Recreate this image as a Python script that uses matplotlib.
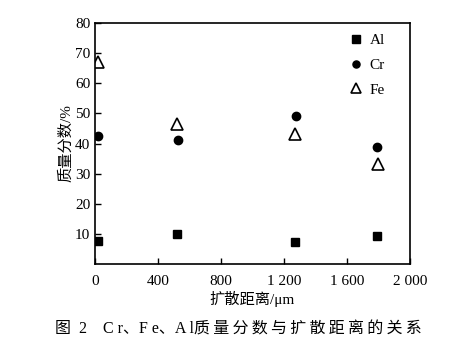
import matplotlib.pyplot as plt

plt.rcParams['font.family'] = ['Liberation Serif', 'Noto Sans CJK SC']

# 扩散距离 (µm) 与质量分数 (%)
dist_al = [20, 520, 1270, 1790]
al = [7.6, 9.9, 7.3, 9.4]
dist_cr = [20, 527, 1276, 1790]
cr = [42.6, 41.0, 49.2, 39.0]
dist_fe = [20, 520, 1272, 1795]
fe = [67.1, 46.6, 43.2, 33.3]

xticks = [0, 400, 800, 1200, 1600, 2000]
xlabels = ['0', '400', '800', '1 200', '1 600', '2 000']
yticks = [10, 20, 30, 40, 50, 60, 70, 80]

caption = '图  2    C r、F e、A l质\u2009量\u2009分\u2009数\u2009与\u2009扩\u2009散\u2009距\u2009离\u2009的\u2009关\u2009系'


def main():
    fig = plt.figure(figsize=(4.76, 3.46), dpi=100)
    ax = fig.add_axes([0.1996, 0.237, 0.6614, 0.6965])

    ax.plot(dist_al, al, 's', color='black', ms=6, label='Al')
    ax.plot(dist_cr, cr, 'o', color='black', ms=6, label='Cr')
    ax.plot(dist_fe, fe, '^', mfc='white', mec='black', mew=1.2, ms=8, label='Fe')

    ax.set_xlim(0, 2000)
    ax.set_ylim(0, 80)
    ax.set_xticks(xticks)
    ax.set_xticklabels(xlabels)
    ax.set_yticks(yticks)
    ax.tick_params(direction='in', length=4, width=1, labelsize=11,
                   top=False, right=False, colors='black')
    ax.tick_params(axis='x', pad=8)
    for s in ax.spines.values():
        s.set_linewidth(1.2)

    ax.set_xlabel('扩散距离/μm', fontsize=11, labelpad=2)
    ax.set_ylabel('质量分数/%', fontsize=11, labelpad=1)

    leg = ax.legend(loc='upper right', bbox_to_anchor=(0.955, 1.0),
                    frameon=False, fontsize=11, handletextpad=0.4,
                    borderaxespad=0.3, labelspacing=0.72, handlelength=1.0,
                    markerscale=0.85)

    fig.text(0.5, 0.035, caption, ha='center', fontsize=11.5)

    fig.savefig('out.png', dpi=100)


if __name__ == '__main__':
    main()
